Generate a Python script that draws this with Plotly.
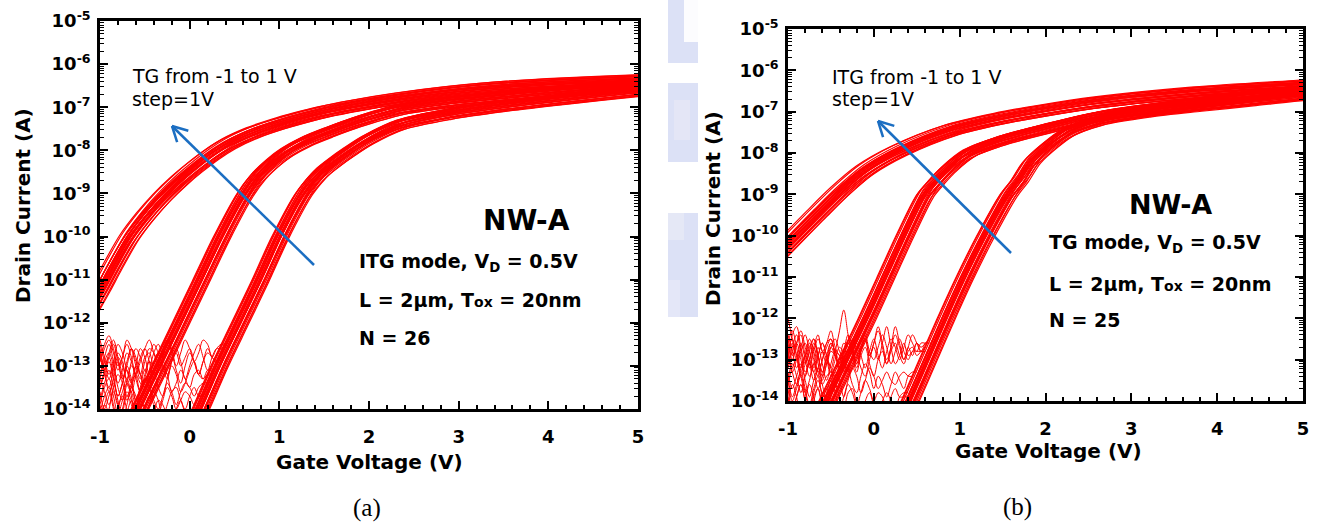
import math
import plotly.graph_objects as go

W, H = 1321, 529

# ---------------------------------------------------------------------------
# Measured transfer curves, log10(I_D / A) versus gate voltage (V).
# Each family is the median device; per-device offsets are listed separately.
# ---------------------------------------------------------------------------

# Panel (a): ITG mode, top gate stepped 1, 0, -1 V
A_TG_P1_V = [-1.15, -1.0, -0.87, -0.68, -0.5, -0.31, -0.1, 0.06, 0.25, 0.43, 0.7,
             0.98, 1.23, 1.5, 1.84, 2.34, 2.9, 3.46, 4.2, 5.0, 5.3]
A_TG_P1_LOG = [-11.8, -11.25, -10.74, -10.05, -9.55, -9.1, -8.68, -8.4, -8.1, -7.86, -7.6,
               -7.4, -7.25, -7.11, -6.97, -6.8, -6.65, -6.54, -6.45, -6.38, -6.35]

A_TG_0_V = [-0.78, -0.56, -0.33, -0.1, 0.13, 0.36, 0.62, 0.76, 0.92, 1.08, 1.3,
            1.55, 1.84, 2.34, 2.9, 3.46, 4.2, 5.0, 5.3]
A_TG_0_LOG = [-15.0, -14.0, -13.0, -12.0, -11.0, -10.0, -9.0, -8.6, -8.28, -8.03, -7.78,
              -7.57, -7.35, -7.05, -6.88, -6.76, -6.62, -6.5, -6.46]

A_TG_M1_V = [-0.1, 0.12, 0.33, 0.56, 0.79, 1.01, 1.27, 1.38, 1.48, 1.6, 1.79,
             1.98, 2.34, 2.9, 3.46, 4.2, 5.0, 5.3]
A_TG_M1_LOG = [-15.0, -14.0, -13.0, -12.0, -11.0, -10.0, -9.0, -8.7, -8.48, -8.28, -8.0,
               -7.75, -7.4, -7.15, -6.98, -6.8, -6.62, -6.57]

# per-device threshold shift (V) and current scatter (decades), N = 26
A_DEV_DV = [-0.10, -0.08, -0.07, -0.06, -0.05, -0.05, -0.04, -0.03, -0.03, -0.02, -0.01, -0.01, 0.0,
            0.0, 0.01, 0.02, 0.02, 0.03, 0.04, 0.04, 0.05, 0.06, 0.07, 0.08, 0.09, 0.11]
A_DEV_DLOG = [0.08, -0.06, 0.12, 0.01, -0.11, 0.05, -0.02, 0.13, -0.08, 0.03, -0.13, 0.09, 0.0,
              -0.04, 0.11, -0.09, 0.06, -0.01, 0.10, -0.12, 0.04, -0.06, 0.07, -0.10, 0.02, -0.03]

# off-state noise floor traces, sampled every 0.05 V from -1 V
A_NOISE_TG_0 = [
    [-12.4, -12.8, -13.2, -12.9, -12.5, -12.7, -13.1, -13.4, -13.0, -12.6, -12.8, -13.2, -12.9, -12.7, -12.8],
    [-13.2, -12.8, -12.5, -12.9, -13.4, -13.1, -12.7, -12.9, -13.3, -13.6, -13.2, -12.9, -13.0, -13.1],
    [-12.7, -13.1, -13.6, -13.3, -12.9, -13.2, -13.7, -13.4, -13.0, -13.2, -13.5, -13.3, -13.2],
    [-13.8, -13.4, -13.1, -13.5, -13.9, -13.6, -13.3, -13.7, -14.2, -13.8, -13.6],
    [-14.3, -13.9, -13.6, -14.0, -14.4, -14.1, -13.7, -13.9, -14.2, -14.0],
    [-12.9, -12.5, -12.3, -12.6, -13.0, -12.8, -12.4, -12.6, -13.0, -13.3, -12.9, -12.6, -12.7, -12.9, -12.7, -12.7],
    [-13.5, -13.1, -12.8, -13.2, -13.7, -13.4, -13.0, -13.3, -13.8, -13.5, -13.3, -13.4],
    [-13.9, -14.3, -14.0, -13.6, -13.9, -14.4, -14.1, -13.8, -14.1],
    [-12.6, -13.0, -12.7, -12.4, -12.8, -13.3, -13.0, -12.6, -12.9, -13.2, -12.8, -12.7, -13.0, -13.0],
    [-13.3, -13.6, -13.9, -13.5, -13.2, -13.4, -13.8, -13.5, -13.2, -13.4, -13.5, -13.3],
]
A_NOISE_TG_M1 = [
    [-12.7, -13.1, -12.8, -12.5, -12.9, -13.3, -12.9, -12.6, -12.8, -13.2, -13.5, -13.1, -12.7, -12.5, -12.8,
     -13.2, -12.9, -12.6, -12.9, -13.3, -13.0, -12.7, -12.5, -12.8, -13.1, -12.8, -12.6, -12.6, -12.5],
    [-12.5, -12.9, -13.3, -13.0, -12.7, -12.9, -13.4, -13.6, -13.2, -12.8, -12.6, -12.9, -13.3, -13.0, -12.6,
     -12.4, -12.7, -13.1, -13.4, -13.0, -12.7, -12.9, -13.2, -12.9, -12.6, -12.8, -12.9, -12.7],
    [-13.3, -12.9, -12.7, -13.0, -13.5, -13.8, -13.4, -13.0, -13.2, -13.6, -13.3, -12.9, -13.1, -13.5, -13.7,
     -13.3, -13.0, -13.2, -13.6, -13.4, -13.1, -12.9, -13.2, -13.3, -13.1, -13.1],
    [-13.6, -14.0, -13.7, -13.4, -13.8, -14.2, -13.9, -13.5, -13.7, -14.1, -14.3, -13.9, -13.6, -13.8, -14.2,
     -13.9, -13.6, -13.5, -13.8, -14.0, -13.7, -13.5, -13.7, -13.7],
    [-14.3, -13.9, -14.1, -14.4, -14.0, -13.7, -14.0, -14.3, -14.1, -13.8, -14.0, -14.4, -14.1, -13.8, -13.9,
     -14.2, -14.4, -14.0, -13.8, -14.1, -14.2, -14.0, -14.0],
    [-12.9, -12.6, -12.4, -12.7, -13.1, -12.8, -12.5, -12.8, -13.2, -12.9, -12.6, -12.4, -12.7, -13.0, -12.8,
     -12.4, -12.6, -13.0, -12.7, -12.4, -12.6, -12.9, -12.7, -12.4, -12.5, -12.8, -12.6, -12.5, -12.5],
    [-13.5, -13.2, -12.9, -13.3, -13.7, -13.4, -13.1, -13.4, -13.8, -13.5, -13.1, -13.3, -13.6, -13.3, -13.0,
     -13.2, -13.6, -13.4, -13.1, -13.3, -13.5, -13.2, -13.1, -13.3, -13.2, -13.2],
    [-14.1, -13.7, -13.5, -13.9, -14.3, -14.0, -13.6, -13.8, -14.2, -14.4, -14.0, -13.7, -13.9, -14.1, -13.8,
     -13.5, -13.7, -14.0, -13.8, -13.6, -13.7, -13.9, -13.7, -13.7],
    [-12.8, -13.2, -13.5, -13.1, -12.8, -13.0, -13.3, -12.9, -12.6, -12.8, -13.1, -12.8, -12.5, -12.7, -13.0,
     -13.3, -12.9, -12.7, -13.0, -12.8, -12.6, -12.9, -13.2, -12.9, -12.7, -12.8, -12.9, -12.8],
    [-13.9, -13.5, -13.3, -13.7, -14.1, -13.8, -13.4, -13.6, -13.9, -13.6, -13.3, -13.5, -13.8, -14.0, -13.7,
     -13.4, -13.6, -13.9, -13.6, -13.4, -13.5, -13.7, -13.5, -13.4, -13.4],
]

# Panel (b): TG mode, inverted top gate stepped 1, 0, -1 V
B_ITG_P1_V = [-1.15, -1.0, -0.67, -0.39, -0.09, 0.3, 0.89, 1.47, 1.97, 2.64, 3.8, 5.0, 5.3]
B_ITG_P1_LOG = [-10.52, -10.2, -9.5, -8.93, -8.41, -7.95, -7.46, -7.17, -6.98, -6.77, -6.53, -6.37, -6.33]

B_ITG_0_V = [-0.76, -0.54, -0.31, -0.08, 0.14, 0.36, 0.6, 0.72, 0.84, 1.1, 1.47,
             1.97, 2.64, 3.8, 5.0, 5.3]
B_ITG_0_LOG = [-15.0, -14.0, -13.0, -12.0, -11.0, -10.0, -9.0, -8.7, -8.43, -8.0, -7.7,
               -7.42, -7.1, -6.77, -6.48, -6.43]

B_ITG_M1_V = [0.2, 0.42, 0.63, 0.84, 1.06, 1.3, 1.57, 1.7, 1.84, 2.05, 2.25,
              2.64, 3.2, 3.8, 4.4, 5.0, 5.3]
B_ITG_M1_LOG = [-15.0, -14.0, -13.0, -12.0, -11.0, -10.0, -9.0, -8.65, -8.2, -7.8, -7.5,
                -7.2, -7.0, -6.86, -6.73, -6.6, -6.56]

# per-device threshold shift (V) and current scatter (decades), N = 25
B_DEV_DV = [-0.11, -0.09, -0.07, -0.06, -0.05, -0.04, -0.04, -0.03, -0.02, -0.01, -0.01, 0.0, 0.0,
            0.01, 0.02, 0.02, 0.03, 0.04, 0.05, 0.05, 0.06, 0.07, 0.08, 0.10, 0.12]
B_DEV_DLOG = [0.10, -0.05, 0.13, 0.02, -0.10, 0.06, -0.03, 0.12, -0.08, 0.04, -0.13, 0.08, -0.01,
              0.11, -0.09, 0.05, -0.02, 0.09, -0.12, 0.03, -0.06, 0.07, -0.11, 0.01, -0.04]

B_NOISE_ITG_0 = [
    [-12.0, -12.5, -13.0, -12.7, -12.4, -12.8, -13.2, -12.9, -12.6, -12.9, -13.3, -13.0, -12.7, -12.8, -12.8],
    [-12.6, -12.3, -12.7, -13.2, -12.9, -12.5, -12.8, -13.3, -13.0, -12.6, -12.5, -12.9, -13.1, -12.8, -12.8],
    [-13.1, -12.7, -12.4, -12.8, -13.3, -13.0, -12.6, -12.9, -13.4, -13.1, -12.7, -12.9, -13.1, -12.9],
    [-12.8, -13.3, -13.6, -13.2, -12.9, -13.1, -13.5, -13.2, -12.8, -13.0, -13.4, -13.2, -13.1],
    [-13.4, -13.9, -13.6, -13.3, -13.7, -14.1, -13.7, -13.4, -13.8, -13.7, -13.6],
    [-14.1, -13.6, -13.9, -14.4, -14.0, -13.6, -13.9, -14.3, -13.9, -13.9],
    [-12.5, -12.9, -12.6, -12.3, -12.7, -13.1, -12.7, -12.4, -12.8, -12.6, -12.3, -12.7, -12.9, -12.6, -12.7, -12.6],
    [-13.7, -14.2, -13.9, -13.6, -14.0, -14.4, -14.0, -13.7, -14.0, -13.9],
    [-13.0, -12.6, -12.9, -13.4, -13.1, -12.7, -12.5, -12.9, -13.3, -12.9, -12.6, -12.8, -13.0, -12.9],
    [-13.6, -13.2, -13.0, -13.4, -13.8, -13.5, -13.1, -13.3, -13.6, -13.4, -13.3, -13.4],
]
B_NOISE_ITG_M1 = [
    [-12.8, -12.5, -12.9, -13.3, -12.9, -12.6, -13.0, -13.4, -13.0, -12.7, -12.5, -12.9, -13.2, -12.8, -12.4,
     -12.7, -13.1, -12.8, -12.5, -12.9, -12.6, -12.2, -12.6, -13.0, -12.7, -12.4, -12.7, -13.0, -12.7, -12.4,
     -12.6, -12.8, -12.6, -12.5],
    [-13.2, -12.8, -12.6, -13.0, -13.4, -13.0, -12.7, -13.1, -13.5, -13.1, -12.8, -12.9, -13.3, -13.0, -12.6,
     -12.8, -13.2, -12.8, -12.5, -12.9, -12.6, -12.3, -12.7, -13.1, -12.7, -12.2, -12.6, -13.0, -12.7, -12.9,
     -12.6, -12.7, -12.6],
    [-12.4, -12.8, -13.2, -12.8, -12.6, -13.0, -13.3, -12.9, -12.6, -12.9, -13.2, -12.8, -12.3, -11.8, -12.4,
     -12.9, -13.3, -12.9, -12.7, -13.1, -13.4, -13.0, -12.8, -13.1, -12.8, -12.6, -12.9, -13.1, -12.8, -12.7,
     -12.9, -12.8, -12.7],
    [-13.5, -13.1, -13.4, -13.8, -13.4, -13.1, -13.3, -13.7, -13.4, -13.0, -13.2, -13.6, -13.3, -13.0, -13.2,
     -13.6, -13.8, -13.4, -13.1, -13.3, -13.7, -13.4, -13.6, -13.9, -13.6, -13.3, -13.5, -13.7, -13.4, -13.3,
     -13.3],
    [-13.9, -14.3, -13.9, -13.6, -14.0, -14.3, -13.9, -13.7, -14.1, -13.8, -13.5, -13.8, -14.2, -13.9, -13.6,
     -13.8, -14.1, -13.8, -13.5, -13.7, -14.0, -13.8, -13.9, -14.2, -13.9, -13.7, -13.9, -13.9, -13.9],
    [-12.8, -13.3, -13.0, -12.6, -13.0, -13.4, -13.1, -12.7, -13.1, -13.5, -13.1, -12.8, -12.9, -13.3, -12.9,
     -12.5, -12.8, -13.2, -13.4, -13.0, -12.7, -13.0, -12.6, -12.2, -12.7, -13.1, -12.9, -12.6, -12.9, -12.8,
     -12.6, -12.8, -12.8],
    [-13.5, -14.0, -13.7, -13.4, -13.8, -14.2, -13.8, -13.5, -13.9, -14.3, -13.9, -13.6, -13.9, -14.2, -13.8,
     -13.7, -14.1, -14.4, -14.0, -13.8, -14.1, -14.3, -14.0, -13.8, -14.0, -14.2, -13.9, -13.8, -13.8],
    [-12.6, -13.0, -12.6, -12.4, -12.9, -13.2, -12.8, -12.5, -12.8, -13.1, -12.7, -12.5, -12.8, -13.0, -13.3,
     -12.9, -12.6, -12.9, -13.2, -12.8, -12.5, -12.9, -13.2, -12.8, -12.5, -12.7, -13.0, -12.7, -12.4, -12.6,
     -12.8, -12.6, -12.6, -12.6],
    [-12.9, -12.4, -12.2, -12.7, -13.1, -12.8, -12.5, -12.9, -13.3, -13.0, -12.6, -12.8, -13.2, -12.9, -12.6,
     -12.8, -13.1, -12.7, -12.4, -12.8, -13.0, -12.7, -12.4, -12.7, -13.1, -12.8, -12.5, -12.8, -13.0, -12.8,
     -12.8, -12.8],
    [-13.3, -13.7, -13.4, -13.1, -13.5, -13.9, -13.5, -13.2, -13.6, -14.0, -13.6, -13.3, -13.5, -13.9, -13.5,
     -13.2, -13.4, -13.8, -13.5, -13.2, -13.4, -13.7, -13.5, -13.3, -13.5, -13.6, -13.4, -13.3, -13.4, -13.4],
]

NOISE_V_START = -1.0
NOISE_V_STEP = 0.05

X_TICKS = [-1, 0, 1, 2, 3, 4, 5]
Y_DECADES = list(range(-14, -4))

RED = "#ff0000"
BLUE = "#1b6ec2"
FONT = "DejaVu Sans"

fig = go.Figure()


def add_family(v_pts, log_pts, dv_list, dlog_list, xa, ya):
    for dv, dl in zip(dv_list, dlog_list):
        fig.add_trace(go.Scatter(
            x=[v + dv for v in v_pts],
            y=[10 ** (l + dl) for l in log_pts],
            mode="lines", xaxis=xa, yaxis=ya, hoverinfo="skip",
            line=dict(color=RED, width=1.2, shape="spline", smoothing=0.8),
        ))


def add_noise(traces, xa, ya):
    for tr in traces:
        fig.add_trace(go.Scatter(
            x=[NOISE_V_START + NOISE_V_STEP * k for k in range(len(tr))],
            y=[10 ** l for l in tr],
            mode="lines", xaxis=xa, yaxis=ya, hoverinfo="skip",
            line=dict(color=RED, width=1, shape="spline", smoothing=1.0),
        ))


# panel (a)
add_noise(A_NOISE_TG_0, "x", "y")
add_noise(A_NOISE_TG_M1, "x", "y")
add_family(A_TG_P1_V, A_TG_P1_LOG, A_DEV_DV, A_DEV_DLOG, "x", "y")
add_family(A_TG_0_V, A_TG_0_LOG, A_DEV_DV[::-1], A_DEV_DLOG, "x", "y")
add_family(A_TG_M1_V, A_TG_M1_LOG, A_DEV_DV, A_DEV_DLOG[::-1], "x", "y")

# panel (b)
add_noise(B_NOISE_ITG_0, "x2", "y2")
add_noise(B_NOISE_ITG_M1, "x2", "y2")
add_family(B_ITG_P1_V, B_ITG_P1_LOG, B_DEV_DV, B_DEV_DLOG, "x2", "y2")
add_family(B_ITG_0_V, B_ITG_0_LOG, B_DEV_DV[::-1], B_DEV_DLOG, "x2", "y2")
add_family(B_ITG_M1_V, B_ITG_M1_LOG, B_DEV_DV, B_DEV_DLOG[::-1], "x2", "y2")


# frame geometry in pixels: (left, right, top, bottom)
FRAME_A = (100, 638, 21, 409)
FRAME_B = (788, 1303, 29, 401)


def px(x):
    return x / W


def py(y):
    return 1 - y / H


tick_font = dict(family=FONT, size=18, color="black", weight="bold")


def x_axis(frame, anchor):
    return dict(
        domain=[px(frame[0]), px(frame[1])], anchor=anchor, range=[-1, 5], automargin=False,
        showline=True, linecolor="black", linewidth=2.5, mirror="allticks",
        ticks="inside", ticklen=8, tickwidth=2, tickcolor="black",
        tickmode="array", tickvals=X_TICKS, ticktext=[str(t) for t in X_TICKS],
        tickfont=tick_font, ticklabelstandoff=10,
        minor=dict(tick0=-1, dtick=0.2, ticks="inside", ticklen=4, tickwidth=1.5, tickcolor="black"),
        showgrid=False, zeroline=False,
    )


def y_axis(frame, anchor):
    return dict(
        domain=[py(frame[3]), py(frame[2])], anchor=anchor, type="log", range=[-14, -5], automargin=False,
        showline=True, linecolor="black", linewidth=2.5, mirror="allticks",
        ticks="inside", ticklen=8, tickwidth=2, tickcolor="black",
        tickmode="array", tickvals=[10 ** e for e in Y_DECADES],
        ticktext=["10<sup>%d</sup>" % e for e in Y_DECADES],
        tickfont=tick_font, ticklabelstandoff=3,
        minor=dict(dtick="D1", ticks="inside", ticklen=4, tickwidth=1, tickcolor="black"),
        showgrid=False, zeroline=False,
    )


annotations = []


def label(x, y, text, size, bold=True, anchor="left", angle=0, family=FONT):
    annotations.append(dict(
        x=px(x), y=py(y), xref="paper", yref="paper", text=text, showarrow=False,
        xanchor=anchor, yanchor="middle", textangle=angle,
        font=dict(family=family, size=size, color="black", weight="bold" if bold else "normal"),
    ))


TOX = "T<span style='font-size:14px'>ox</span>"

# panel (a) texts
label(130, 76, "TG from -1 to 1 V", 19, bold=False)
label(130, 99, "step=1V", 19, bold=False)
label(526, 220, "NW-A", 28, anchor="center")
label(357, 262, "ITG mode, V<sub>D</sub> = 0.5V", 19)
label(357, 300, "L = 2\u00b5m, " + TOX + " = 20nm", 19)
label(357, 338, "N = 26", 19)
label(369, 462, "Gate Voltage (V)", 20, anchor="center")
label(23, 206, "Drain Current (A)", 20, anchor="center", angle=-90)
label(367, 508, "(a)", 25, bold=False, anchor="center", family="Liberation Serif")

# panel (b) texts
label(830, 77, "ITG from -1 to 1 V", 19, bold=False)
label(830, 99, "step=1V", 19, bold=False)
label(1170, 205, "NW-A", 27, anchor="center")
label(1047, 244, "TG mode, V<sub>D</sub> = 0.5V", 19)
label(1047, 284, "L = 2\u00b5m, " + TOX + " = 20nm", 19)
label(1047, 320, "N = 25", 19)
label(1048, 451, "Gate Voltage (V)", 20, anchor="center")
label(713, 209, "Drain Current (A)", 20, anchor="center", angle=-90)
label(1017, 507, "(b)", 25, bold=False, anchor="center", family="Liberation Serif")

shapes = []


def arrow(tail, head, arm=17, spread=28):
    dx, dy = tail[0] - head[0], tail[1] - head[1]
    n = math.hypot(dx, dy)
    ux, uy = dx / n, dy / n
    line = dict(color=BLUE, width=2.5)
    shapes.append(dict(type="line", xref="paper", yref="paper",
                       x0=px(tail[0]), y0=py(tail[1]), x1=px(head[0]), y1=py(head[1]), line=line))
    for sgn in (1, -1):
        a = math.radians(spread * sgn)
        ex = head[0] + arm * (ux * math.cos(a) - uy * math.sin(a))
        ey = head[1] + arm * (ux * math.sin(a) + uy * math.cos(a))
        shapes.append(dict(type="line", xref="paper", yref="paper",
                           x0=px(head[0]), y0=py(head[1]), x1=px(ex), y1=py(ey), line=line))


arrow((314, 265), (172, 126))
arrow((1011, 253), (878, 121))

# faint page watermark between the panels
for (x0, y0, x1, y1, col) in [
    (668, 0, 698, 63, "rgba(205,212,242,0.7)"),
    (684, 0, 698, 42, "rgba(255,255,255,0.9)"),
    (668, 83, 698, 162, "rgba(205,212,242,0.7)"),
    (674, 100, 690, 140, "rgba(228,231,246,0.9)"),
    (668, 213, 698, 317, "rgba(205,212,242,0.7)"),
    (668, 213, 684, 240, "rgba(230,233,246,0.9)"),
    (668, 280, 680, 317, "rgba(228,232,248,0.9)"),
]:
    shapes.append(dict(type="rect", xref="paper", yref="paper", layer="below",
                       x0=px(x0), y0=py(y1), x1=px(x1), y1=py(y0),
                       fillcolor=col, line=dict(width=0)))

fig.update_layout(
    width=W, height=H, autosize=False,
    margin=dict(l=0, r=0, t=0, b=0, pad=0, autoexpand=False),
    paper_bgcolor="white", plot_bgcolor="rgba(0,0,0,0)", showlegend=False,
    xaxis=x_axis(FRAME_A, "y"), yaxis=y_axis(FRAME_A, "x"),
    xaxis2=x_axis(FRAME_B, "y2"), yaxis2=y_axis(FRAME_B, "x2"),
    annotations=annotations, shapes=shapes,
)

fig.write_html("out.html")
